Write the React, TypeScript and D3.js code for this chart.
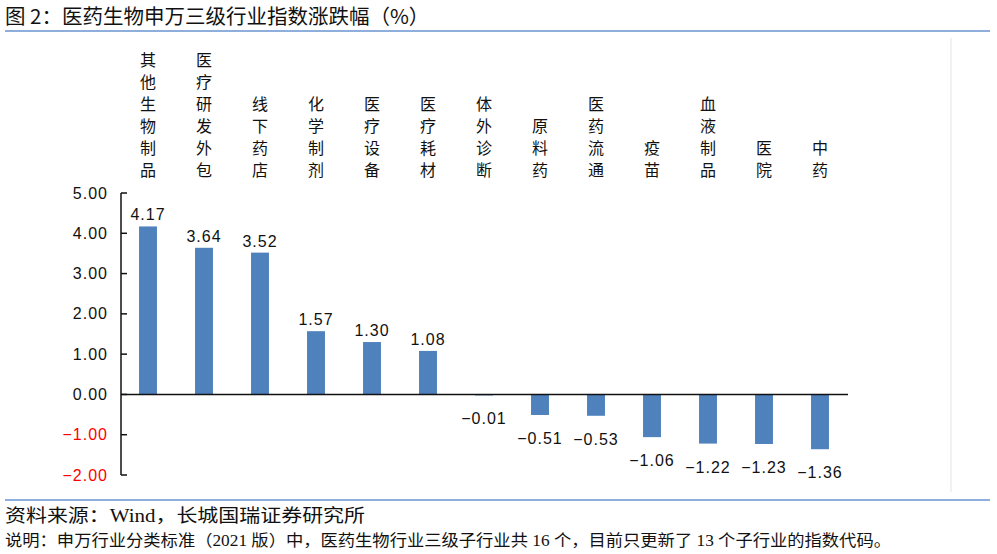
import React, { useEffect, useRef } from 'react';
import * as d3 from 'd3';

const categories = ['其他生物制品', '医疗研发外包', '线下药店', '化学制剂', '医疗设备', '医疗耗材', '体外诊断', '原料药', '医药流通', '疫苗', '血液制品', '医院', '中药'];
const values = [4.17, 3.64, 3.52, 1.57, 1.30, 1.08, -0.01, -0.51, -0.53, -1.06, -1.22, -1.23, -1.36];
const yTicks = [5, 4, 3, 2, 1, 0, -1, -2];

const title = '图 2：医药生物申万三级行业指数涨跌幅（%）';
const source = '资料来源：Wind，长城国瑞证券研究所';
const note = '说明：申万行业分类标准（2021 版）中，医药生物行业三级子行业共 16 个，目前只更新了 13 个子行业的指数代码。';

const W = 997;
const H = 554;

const App = () => {
  const svgRef = useRef<SVGSVGElement>(null);

  useEffect(() => {
    const svg = d3.select(svgRef.current);
    svg.selectAll('*').remove();

    const x = d3.scaleBand().domain(categories).range([120, 848]).paddingInner(0.68).paddingOuter(0.34);
    const y = d3.scaleLinear().domain([-2, 5]).range([475, 193]);
    const fmt = d3.format('.2f');
    const numFont = '"Liberation Sans", Arial, sans-serif';
    const cjkFont = '"Noto Sans CJK SC", sans-serif';

    // title and rules
    svg.append('text')
      .attr('x', 5).attr('y', 24)
      .attr('font-family', cjkFont).attr('font-size', 20.5)
      .attr('fill', '#111')
      .text(title);
    svg.append('rect').attr('x', 5).attr('y', 30).attr('width', 985).attr('height', 2).attr('fill', '#8eaedb');
    svg.append('rect').attr('x', 5).attr('y', 499).attr('width', 985).attr('height', 2).attr('fill', '#8eaedb');
    svg.append('line')
      .attr('x1', 951).attr('x2', 951).attr('y1', 38).attr('y2', 492)
      .attr('stroke', '#e4e4e4').attr('stroke-width', 1);

    // bars
    svg.selectAll('.bar')
      .data(values)
      .enter().append('rect')
      .attr('class', 'bar')
      .attr('x', (d, i) => x(categories[i])!)
      .attr('width', x.bandwidth())
      .attr('y', d => y(Math.max(0, d)))
      .attr('height', d => Math.max(1, Math.abs(y(d) - y(0))))
      .attr('fill', '#4f81bd');

    // y axis
    const g = svg.append('g');
    g.append('line')
      .attr('x1', 121).attr('x2', 121).attr('y1', y(5)).attr('y2', y(-2))
      .attr('stroke', '#111').attr('stroke-width', 1.5);
    g.selectAll('.tick')
      .data(yTicks)
      .enter().append('line')
      .attr('x1', 121).attr('x2', 127)
      .attr('y1', d => y(d)).attr('y2', d => y(d))
      .attr('stroke', '#111').attr('stroke-width', 1.5);
    g.selectAll('.ylab')
      .data(yTicks)
      .enter().append('text')
      .attr('x', 108).attr('y', d => y(d))
      .attr('dy', '0.35em')
      .attr('text-anchor', 'end')
      .attr('font-family', numFont).attr('font-size', 16)
      .attr('letter-spacing', 1)
      .attr('fill', d => (d < 0 ? '#ff0000' : '#111'))
      .text(d => fmt(d));

    // zero line
    svg.append('line')
      .attr('x1', 121).attr('x2', 848).attr('y1', y(0)).attr('y2', y(0))
      .attr('stroke', '#111').attr('stroke-width', 1.5);

    // data labels
    svg.selectAll('.vlab')
      .data(values)
      .enter().append('text')
      .attr('x', (d, i) => x(categories[i])! + x.bandwidth() / 2)
      .attr('y', d => (d >= 0 ? y(d) - 6 : y(d) + 29))
      .attr('text-anchor', 'middle')
      .attr('font-family', numFont).attr('font-size', 16)
      .attr('letter-spacing', 1)
      .attr('fill', '#111')
      .text(d => fmt(d));

    // vertical category labels
    const cat = svg.selectAll('.cat')
      .data(categories)
      .enter().append('g')
      .attr('transform', d => `translate(${x(d)! + x.bandwidth() / 2},0)`);
    cat.each(function (d) {
      const chars = d.split('');
      d3.select(this).selectAll('text')
        .data(chars)
        .enter().append('text')
        .attr('x', 0)
        .attr('y', (c, i) => 176 - (chars.length - 1 - i) * 22)
        .attr('text-anchor', 'middle')
        .attr('font-family', cjkFont).attr('font-size', 16)
        .attr('fill', '#111')
        .text(c => c);
    });

    // footer
    svg.append('text')
      .attr('x', 5).attr('y', 522)
      .attr('font-family', '"Liberation Serif", "Noto Sans CJK SC", serif').attr('font-size', 18)
      .attr('textLength', 360).attr('lengthAdjust', 'spacingAndGlyphs')
      .attr('fill', '#111')
      .text(source);
    svg.append('text')
      .attr('x', 5).attr('y', 546)
      .attr('font-family', '"Liberation Serif", "Noto Sans CJK SC", serif').attr('font-size', 16)
      .attr('textLength', 886).attr('lengthAdjust', 'spacingAndGlyphs')
      .attr('fill', '#111')
      .text(note);
  }, []);

  return (
    <svg ref={svgRef} width={W} height={H} style={{ position: 'absolute', left: 0, top: 0, background: '#fff' }}></svg>
  );
};

export default App;
